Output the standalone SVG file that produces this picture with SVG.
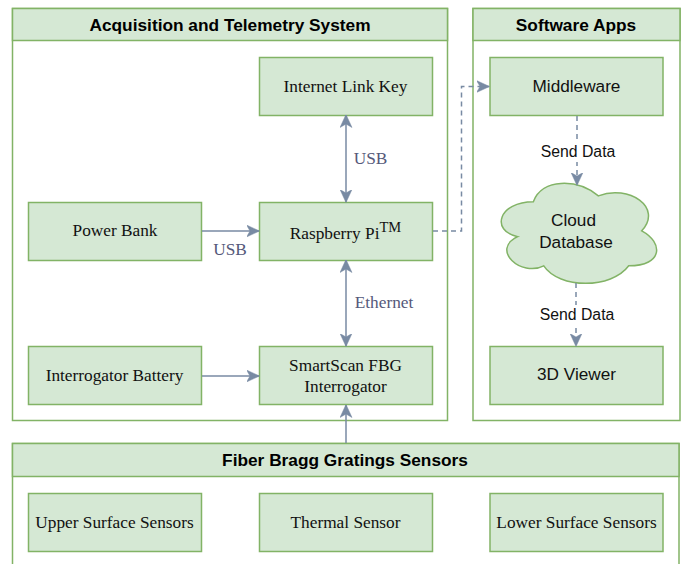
<svg xmlns="http://www.w3.org/2000/svg" width="688" height="564" viewBox="0 0 688 564">
<style>
.b{fill:#d5e8d4;stroke:#82b366;stroke-width:1.5}
.f{fill:#fff;stroke:#82b366;stroke-width:1.5}
.t{font-family:"Liberation Serif",serif;font-size:17.300px;fill:#111;text-anchor:middle}
.s{font-family:"Liberation Sans",sans-serif;font-size:17.200px;fill:#111;text-anchor:middle}
.h{font-family:"Liberation Sans",sans-serif;font-size:17.300px;font-weight:bold;fill:#000;text-anchor:middle}
.l{font-family:"Liberation Serif",serif;font-size:17.300px;fill:#55597a;text-anchor:middle}
.n{font-family:"Liberation Sans",sans-serif;font-size:15.800px;fill:#111;text-anchor:middle}
.c{fill:none;stroke:#788aa3;stroke-width:1.5}
.d{stroke-dasharray:5 4}
</style>
<defs>
<marker id="e" viewBox="0 0 13 13" refX="12.500" refY="6.500" markerWidth="13" markerHeight="13" markerUnits="userSpaceOnUse" orient="auto-start-reverse"><path d="M0 0.500L13 6.500L0 12.500L3.500 6.500Z" fill="#788aa3" stroke="#788aa3" stroke-width="0.500"/></marker>
</defs>
<g id="acquisition"><rect class="f" x="12.500" y="8.500" width="435" height="412"/><rect class="b" x="12.500" y="8.500" width="435" height="32"/><text class="h" x="230" y="31">Acquisition and Telemetry System</text></g>
<g id="software"><rect class="f" x="473" y="8.500" width="207" height="412"/><rect class="b" x="473" y="8.500" width="207" height="32"/><text class="h" x="576" y="31">Software Apps</text></g>
<g id="fbg"><path class="f" d="M12.500 564V443.500H679V564"/><rect class="b" x="12.500" y="443.500" width="666.500" height="33"/><text class="h" x="345" y="466">Fiber Bragg Gratings Sensors</text></g>
<g id="internet"><rect class="b" x="259.500" y="57.500" width="173" height="58"/><text class="t" x="345.500" y="92">Internet Link Key</text></g>
<g id="raspberry"><rect class="b" x="259.500" y="202.500" width="173" height="58"/><text class="t" x="345.500" y="239">Raspberry Pi<tspan style="font-size:14.500px" dy="-7.500">TM</tspan></text></g>
<g id="power"><rect class="b" x="28.500" y="202.500" width="173" height="58"/><text class="t" x="115" y="236">Power Bank</text></g>
<g id="battery"><rect class="b" x="28.500" y="346.500" width="173" height="58"/><text class="t" x="114.500" y="381">Interrogator Battery</text></g>
<g id="interrogator"><rect class="b" x="259.500" y="346.500" width="173" height="58"/><text class="t" x="345.500" y="371">SmartScan FBG</text><text class="t" x="345.500" y="392">Interrogator</text></g>
<g id="middleware"><rect class="b" x="490" y="57.500" width="173" height="58"/><text class="s" x="576.500" y="92">Middleware</text></g>
<g id="cloud"><path class="b" d="M533.350 201.660C498.670 201.660 490 230.820 517.740 236.650C490 249.480 521.210 277.480 543.750 265.810C559.360 289.140 611.380 289.140 628.720 265.810C663.400 265.810 663.400 242.480 641.730 230.820C663.400 207.490 628.720 184.160 598.380 195.830C576.700 178.330 542.020 178.330 533.350 201.660Z"/><text class="s" x="573.500" y="226">Cloud</text><text class="s" x="576" y="248">Database</text></g>
<g id="viewer"><rect class="b" x="490" y="346.500" width="173" height="58"/><text class="s" x="576.500" y="380">3D Viewer</text></g>
<g id="upper"><rect class="b" x="28.500" y="493.500" width="173" height="58"/><text class="t" x="114.500" y="528">Upper Surface Sensors</text></g>
<g id="thermal"><rect class="b" x="259.500" y="493.500" width="173" height="58"/><text class="t" x="345.500" y="528">Thermal Sensor</text></g>
<g id="lower"><rect class="b" x="490" y="493.500" width="173" height="58"/><text class="t" x="576.500" y="528">Lower Surface Sensors</text></g>
<g id="connectors">
<path class="c" d="M346 115V202" marker-start="url(#e)" marker-end="url(#e)"/>
<path class="c" d="M202 231H259" marker-end="url(#e)"/>
<path class="c" d="M346 260V346" marker-start="url(#e)" marker-end="url(#e)"/>
<path class="c" d="M202 376H259" marker-end="url(#e)"/>
<path class="c" d="M346 443V405" marker-end="url(#e)"/>
<path class="c d" d="M433 231H461.500V86.500H489" marker-end="url(#e)"/>
<path class="c d" d="M577 116V185" marker-end="url(#e)"/>
<path class="c d" d="M576 283V346" marker-end="url(#e)"/>
</g>
<g id="labels">
<text class="l" x="370.500" y="164">USB</text>
<text class="l" x="230" y="255">USB</text>
<text class="l" x="384" y="308">Ethernet</text>
<rect x="540" y="142" width="76" height="20" fill="#fff"/>
<text class="n" x="578" y="157">Send Data</text>
<rect x="538" y="305" width="76" height="19" fill="#fff"/>
<text class="n" x="577" y="320">Send Data</text>
</g>
</svg>
